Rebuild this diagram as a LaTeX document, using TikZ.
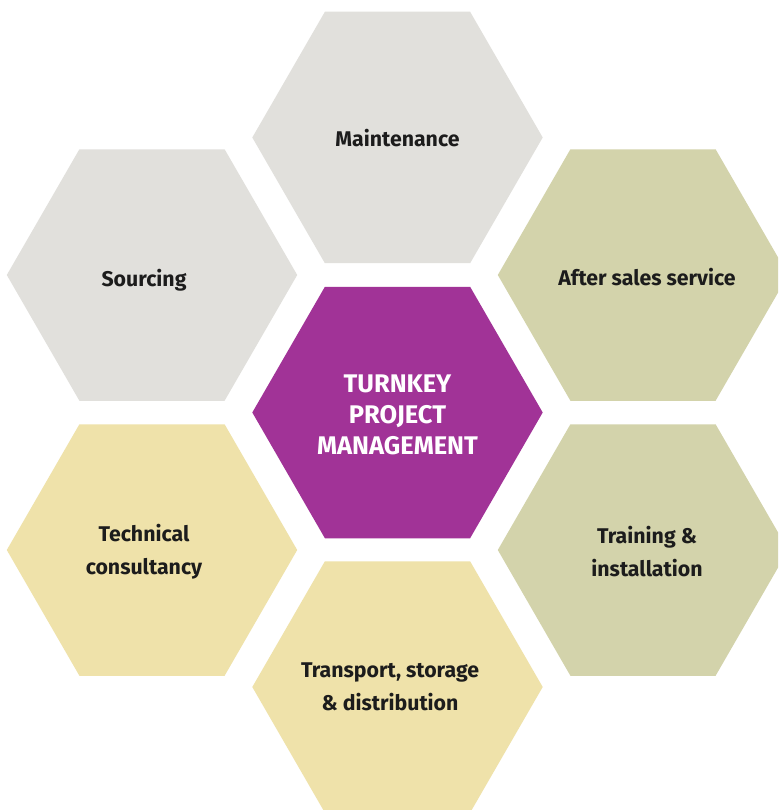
\documentclass[tikz,border=0pt]{standalone}
\usepackage{fontspec}
\setmainfont{Fira Sans}
\usetikzlibrary{shapes.geometric}
\definecolor{hexgray}{HTML}{E1E0DC}
\definecolor{hexpurple}{HTML}{A13397}
\definecolor{hexolive}{HTML}{D3D3AB}
\definecolor{hexyellow}{HTML}{EFE2AA}
\definecolor{txtdark}{HTML}{1C1C1C}
\tikzset{
  hexcell/.style={regular polygon, regular polygon sides=6, minimum size=290.4pt,
    inner sep=0pt, outer sep=0pt, draw=none, align=center},
  hexlabel/.style={inner sep=0pt, align=center,
    font=\fontsize{21.3}{33}\selectfont\bfseries, text=txtdark},
  hexcenterlabel/.style={hexlabel, text=white,
    font=\fontsize{25.5}{31}\selectfont\bfseries},
}
\begin{document}
\begin{tikzpicture}[x=1pt,y=-1pt]
\useasboundingbox (0,0) rectangle (778,810);
\clip (0,0) rectangle (778,810);
\fill[white] (0,0) rectangle (778,810);
% hexagons
\node[hexcell, fill=hexgray] (maint) at (397.5,137.5) {};
\node[hexcell, fill=hexgray] (src) at (152,275) {};
\node[hexcell, fill=hexolive] (after) at (643,275) {};
\node[hexcell, fill=hexpurple] (turnkey) at (397.5,412.5) {};
\node[hexcell, fill=hexyellow] (tech) at (152,550) {};
\node[hexcell, fill=hexolive] (train) at (643,550) {};
\node[hexcell, fill=hexyellow] (trans) at (397.5,687) {};
% labels
\node[hexlabel] (maintlbl) at ([xshift=0pt,yshift=-1pt]maint.center) {Maintenance};
\node[hexlabel] (srclbl) at ([xshift=-8pt,yshift=-5pt]src.center) {Sourcing};
\node[hexlabel] (afterlbl) at ([xshift=4pt,yshift=-2pt]after.center) {After sales service};
\node[hexcenterlabel] (turnkeylbl) at ([yshift=-2pt]turnkey.center) {TURNKEY\\PROJECT\\MANAGEMENT};
\node[hexlabel] (techlbl) at ([xshift=-8pt,yshift=-1.5pt]tech.center) {Technical\\consultancy};
\node[hexlabel] (trainlbl) at ([xshift=4pt,yshift=-1.5pt]train.center) {Training \&\\installation};
\node[hexlabel] (translbl) at ([xshift=-7.5pt]trans.center) {Transport, storage\\\& distribution};
\end{tikzpicture}
\end{document}
